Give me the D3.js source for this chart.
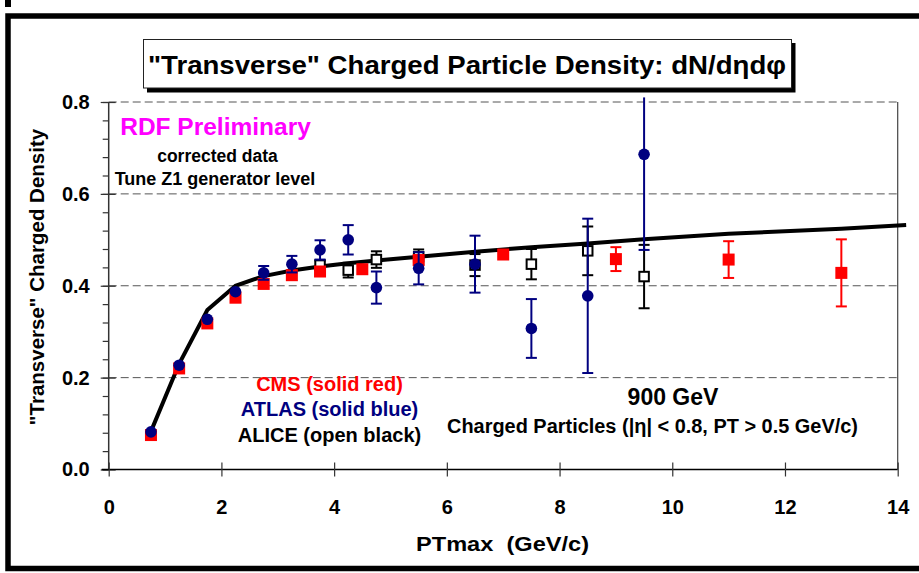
<!DOCTYPE html>
<html>
<head>
<meta charset="utf-8">
<script src="https://cdn.jsdelivr.net/npm/d3@7"></script>
<style>
  html, body { margin: 0; padding: 0; background: #fff; }
  svg { display: block; font-family: "Liberation Sans", Arial, Helvetica, sans-serif; font-weight: bold; }
</style>
</head>
<body>
<svg id="chart" width="919" height="573"></svg>
<script>
// ---------- data ----------
const cmsX   = [0.75, 1.25, 1.75, 2.25, 2.75, 3.25, 3.75, 4.5, 5.5, 7.0, 9.0, 11.0, 13.0];
const cmsY   = [0.075, 0.220, 0.318, 0.374, 0.404, 0.423, 0.431, 0.436, 0.456, 0.468, 0.458, 0.457, 0.428];
const cmsErr = [0, 0, 0, 0, 0, 0, 0, 0, 0, 0, 0.026, 0.040, 0.073];

const atlasX   = [0.75, 1.25, 1.75, 2.25, 2.75, 3.25, 3.75, 4.25, 4.75, 5.5, 6.5, 7.5, 8.5, 9.5];
const atlasY   = [0.082, 0.227, 0.327, 0.387, 0.428, 0.447, 0.478, 0.500, 0.396, 0.438, 0.447, 0.307, 0.378, 0.686];
const atlasErr = [0, 0, 0, 0, 0.015, 0.018, 0.021, 0.032, 0.035, 0.035, 0.062, 0.064, 0.168, 0.208];

const aliceX   = [3.75, 4.25, 4.75, 5.5, 6.5, 7.5, 8.5, 9.5];
const aliceY   = [0.445, 0.434, 0.457, 0.463, 0.445, 0.447, 0.476, 0.420];
const aliceErr = [0.010, 0.016, 0.018, 0.016, 0.024, 0.033, 0.053, 0.069];

const tuneX = [0.75, 1.25, 1.75, 2.25, 2.75, 3.25, 3.75, 4.25, 4.75, 5.5, 6.5, 7.5, 8.5, 9.5, 11.0, 13.0, 14.15];
const tuneY = [0.083, 0.230, 0.347, 0.400, 0.421, 0.433, 0.442, 0.449, 0.455, 0.463, 0.474, 0.484, 0.492, 0.501, 0.513, 0.524, 0.532];

const xTicks = [0, 2, 4, 6, 8, 10, 12, 14];
const yTicks = [0.0, 0.2, 0.4, 0.6, 0.8];
const yMinorTicks = d3.range(0, 0.8001, 0.04);

const titleText = "\"Transverse\" Charged Particle Density: dN/d\u03B7d\u03C6";
const xLabel = "PTmax\u00A0 (GeV/c)";
const yLabel = "\"Transverse\" Charged Density";
const legendLines = ["CMS (solid red)", "ATLAS (solid blue)", "ALICE (open black)"];
const noteLines = ["corrected data", "Tune Z1 generator level"];

// ---------- layout ----------
const svg = d3.select("#chart");
const RED = "#ff0000", NAVY = "#000080", MAGENTA = "#ff00ff";
const x = d3.scaleLinear().domain([0, 14]).range([108.7, 897.7]);
const y = d3.scaleLinear().domain([0, 0.8]).range([469.5, 102]);

// outer frame
svg.append("rect").attr("x", 5).attr("y", 0).attr("width", 6).attr("height", 7).attr("fill", "#000");
svg.append("rect").attr("x", 8).attr("y", 16).attr("width", 930).attr("height", 552.5)
  .attr("fill", "none").attr("stroke", "#000").attr("stroke-width", 5.5);

// title box with shadow
svg.append("rect").attr("x", 147).attr("y", 43).attr("width", 648.5).attr("height", 49.5).attr("fill", "#000");
svg.append("rect").attr("x", 143.5).attr("y", 39.5).attr("width", 648).attr("height", 48.5)
  .attr("fill", "#fff").attr("stroke", "#222").attr("stroke-width", 1);
svg.append("text").attr("x", 148).attr("y", 73.5)
  .attr("font-size", 25.5).attr("textLength", 638).attr("lengthAdjust", "spacingAndGlyphs")
  .attr("fill", "#000").text(titleText);

// grid lines
svg.append("g").selectAll("line").data(yTicks.filter(d => d > 0)).join("line")
  .attr("x1", x(0)).attr("x2", x(14)).attr("y1", d => y(d)).attr("y2", d => y(d))
  .attr("stroke", "#555").attr("stroke-width", 1).attr("stroke-dasharray", "8,4");
// right border of plot
svg.append("line").attr("x1", x(14)).attr("x2", x(14)).attr("y1", y(0.8)).attr("y2", y(0))
  .attr("stroke", "#444").attr("stroke-width", 1.2);

// y axis minor
svg.append("g").attr("transform", `translate(${x(0)},0)`)
  .call(d3.axisLeft(y).tickValues(yMinorTicks).tickSize(6).tickFormat(""))
  .call(g => g.select(".domain").remove())
  .call(g => g.selectAll("line").attr("stroke", "#333").attr("stroke-width", 1.2));
// y axis major
const yAx = svg.append("g").attr("transform", `translate(${x(0)},0)`)
  .call(d3.axisLeft(y).tickValues(yTicks).tickSize(8).tickPadding(11).tickFormat(d3.format(".1f")));
yAx.select(".domain").attr("stroke", "#333").attr("stroke-width", 1.5).attr("d", `M0,${y(0.8)}V${y(0)}`);
yAx.selectAll(".tick line").attr("x1", 7).attr("x2", -8).attr("stroke", "#333").attr("stroke-width", 1.2);
yAx.selectAll(".tick text").attr("font-size", 20).attr("font-weight", "bold")
  .attr("font-family", "Liberation Sans, Arial, sans-serif").attr("fill", "#000");

// x axis
const xAx = svg.append("g").attr("transform", `translate(0,${y(0)})`)
  .call(d3.axisBottom(x).tickValues(xTicks).tickSize(7).tickPadding(23).tickFormat(d3.format("d")));
xAx.select(".domain").attr("stroke", "#000").attr("stroke-width", 1.5).attr("d", `M${x(0) - 7},0H${x(14)}`);
xAx.selectAll(".tick line").attr("y1", -7).attr("y2", 7).attr("stroke", "#333").attr("stroke-width", 1.2);
xAx.selectAll(".tick text").attr("font-size", 20).attr("font-weight", "bold")
  .attr("font-family", "Liberation Sans, Arial, sans-serif").attr("fill", "#000");

// axis titles
svg.append("text").attr("x", 416).attr("y", 551)
  .attr("font-size", 21).attr("textLength", 173).attr("lengthAdjust", "spacingAndGlyphs")
  .attr("fill", "#000").text(xLabel);
svg.append("text").attr("transform", "translate(44,277) rotate(-90)").attr("text-anchor", "middle")
  .attr("font-size", 20.5).attr("fill", "#000").text(yLabel);

// annotations
svg.append("text").attr("x", 215.5).attr("y", 135).attr("text-anchor", "middle")
  .attr("font-size", 24.5).attr("fill", MAGENTA).text("RDF Preliminary");
svg.append("text").attr("x", 217.5).attr("y", 162).attr("text-anchor", "middle")
  .attr("font-size", 17.5).attr("fill", "#000").text(noteLines[0]);
svg.append("text").attr("x", 215).attr("y", 185).attr("text-anchor", "middle")
  .attr("font-size", 18).attr("fill", "#000").text(noteLines[1]);

const legColors = [RED, NAVY, "#000"];
const legBase = [390.7, 416, 441.7];
legendLines.forEach((t, i) => {
  svg.append("text").attr("x", 329.5).attr("y", legBase[i]).attr("text-anchor", "middle")
    .attr("font-size", 20).attr("fill", legColors[i]).text(t);
});
svg.append("text").attr("x", 673).attr("y", 405).attr("text-anchor", "middle")
  .attr("font-size", 23).attr("fill", "#000").text("900 GeV");
svg.append("text").attr("x", 447).attr("y", 433)
  .attr("font-size", 19.5).attr("textLength", 411).attr("lengthAdjust", "spacingAndGlyphs")
  .attr("fill", "#000").text("Charged Particles (|\u03B7| < 0.8, PT > 0.5 GeV/c)");

// tune curve
const tune = tuneX.map((d, i) => [d, tuneY[i]]);
svg.append("path").datum(tune)
  .attr("d", d3.line().x(d => x(d[0])).y(d => y(d[1])))
  .attr("fill", "none").attr("stroke", "#000").attr("stroke-width", 4).attr("stroke-linejoin", "miter");

// error bars helper
const yTopClip = 0.81;
function errorBars(xs, ys, es, color) {
  const g = svg.append("g");
  xs.forEach((xv, i) => {
    const e = es[i];
    if (!e) return;
    const lo = ys[i] - e, hi = ys[i] + e;
    const hiC = Math.min(hi, yTopClip);
    g.append("line").attr("x1", x(xv)).attr("x2", x(xv)).attr("y1", y(lo)).attr("y2", y(hiC))
      .attr("stroke", color).attr("stroke-width", 2);
    g.append("line").attr("x1", x(xv) - 5.5).attr("x2", x(xv) + 5.5).attr("y1", y(lo)).attr("y2", y(lo))
      .attr("stroke", color).attr("stroke-width", 2);
    if (hi <= yTopClip) {
      g.append("line").attr("x1", x(xv) - 5.5).attr("x2", x(xv) + 5.5).attr("y1", y(hi)).attr("y2", y(hi))
        .attr("stroke", color).attr("stroke-width", 2);
    }
  });
}

// ALICE (open black squares)
errorBars(aliceX, aliceY, aliceErr, "#000");
svg.append("g").selectAll("rect").data(aliceX.map((d, i) => [d, aliceY[i]])).join("rect")
  .attr("x", d => x(d[0]) - 4.75).attr("y", d => y(d[1]) - 4.75)
  .attr("width", 9.5).attr("height", 9.5)
  .attr("fill", "#fff").attr("stroke", "#000").attr("stroke-width", 2);

// CMS (solid red squares)
errorBars(cmsX, cmsY, cmsErr, RED);
svg.append("g").selectAll("rect").data(cmsX.map((d, i) => [d, cmsY[i]])).join("rect")
  .attr("x", d => x(d[0]) - 6).attr("y", d => y(d[1]) - 6)
  .attr("width", 12).attr("height", 12).attr("fill", RED);

// ATLAS (solid blue circles)
errorBars(atlasX, atlasY, atlasErr, NAVY);
svg.append("g").selectAll("circle").data(atlasX.map((d, i) => [d, atlasY[i]])).join("circle")
  .attr("cx", d => x(d[0])).attr("cy", d => y(d[1])).attr("r", 5.8).attr("fill", NAVY);
</script>
</body>
</html>
